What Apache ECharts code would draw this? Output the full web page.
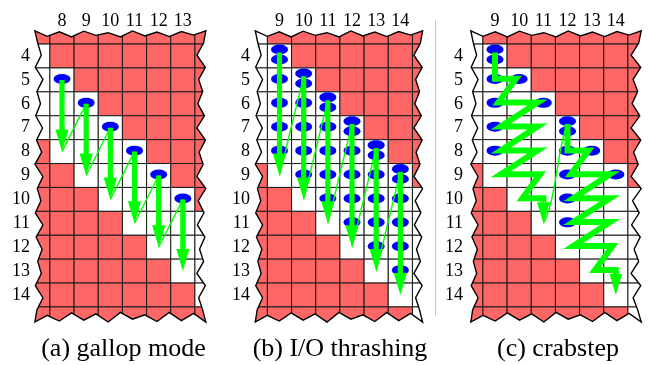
<!DOCTYPE html>
<html><head><meta charset="utf-8">
<script src="https://cdn.jsdelivr.net/npm/echarts@6.0.0/dist/echarts.min.js"></script>
<style>html,body{margin:0;padding:0;background:#fff}#chart{width:653px;height:365px}</style>
</head><body><div id="chart"></div>
<script>
// ================= data =================
const colLabelsA = [8, 9, 10, 11, 12, 13];
const colLabelsB = [9, 10, 11, 12, 13, 14];
const colLabelsC = [9, 10, 11, 12, 13, 14];
const rowLabels = [4, 5, 6, 7, 8, 9, 10, 11, 12, 13, 14];

// cells drawn (including the torn partial rows / columns at the edges)
const cellColsA = [7, 8, 9, 10, 11, 12, 13, 14];
const cellColsB = [8, 9, 10, 11, 12, 13, 14, 15];
const cellColsC = [8, 9, 10, 11, 12, 13, 14, 15];
const cellRows = [3, 4, 5, 6, 7, 8, 9, 10, 11, 12, 13, 14, 15];

// white cells per row: [row, firstCol, lastCol]; every other cell is red
const whiteA = [[4,7,7],[5,7,8],[6,7,9],[7,7,10],[8,8,11],[9,9,12],[10,10,13],[11,11,14],[12,12,14],[13,13,14],[14,14,14]];
const whiteB = [[3,8,8],[4,8,9],[5,8,10],[6,8,11],[7,8,12],[8,8,13],[9,9,14],[10,10,15],[11,11,15],[12,12,15],[13,13,15],[14,14,15],[15,15,15]];
const whiteC = [[3,8,8],[4,8,9],[5,8,10],[6,8,11],[7,8,12],[8,8,13],[9,9,14],[10,10,15],[11,11,15],[12,12,15],[13,13,15],[14,14,15],[15,15,15]];

// blue probes [col, row]
const probesA = [[8,5],[9,6],[10,7],[11,8],[12,9],[13,10]];
const probesB = [[9,5],[9,6],[9,7],[9,8],[10,6],[10,7],[10,8],[10,9],[11,7],[11,8],[11,9],[11,10],
                 [12,8],[12,9],[12,10],[12,11],[13,9],[13,10],[13,11],[13,12],[14,10],[14,11],[14,12],[14,13]];
const doubleProbesB = [[9,4],[10,5],[11,6],[12,7],[13,8],[14,9]];
const probesC = [[9,5],[9,6],[9,7],[9,8],[10,5],[11,6],[12,8],[12,9],[12,10],[12,11],[13,8],[14,9]];
const doubleProbesC = [[9,4],[12,7]];

// green arrows [col, fromRow, toRow]
const gallopsA = [[8,5,8],[9,6,9],[10,7,10],[11,8,11],[12,9,12],[13,10,13]];
const scansB = [[9,4,9],[10,5,10],[11,6,11],[12,7,12],[13,8,13],[14,9,14]];
// crabstep zig-zag paths [col, row]
const crabPath1 = [[9,4],[9,5],[10,5],[9,6],[11,6],[9,7],[11,7],[9,8],[11,8],[9,9],[11,9],[10,10],[11,10],[11,11]];
const crabPath2 = [[12,7],[12,8],[13,8],[12,9],[14,9],[12,10],[14,10],[12,11],[14,11],[12,12],[14,12],[13,13],[14,13],[14,14]];
const crabJump = [[11,11],[12,7]];

const captions = ['(a) gallop mode', '(b) I/O thrashing', '(c) crabstep'];

// ================= layout & style =================
const RED = '#ff6666', GREEN = '#00ff00', BLUE = '#0000ff';
const FONT = 'Liberation Serif';
const COL_W = 24.17, ROW_H = 23.9, ROW4_Y = 56;
const TEETH = [0.9, 0.15, 1.0, 0.05, 0.75, 0.3, 1.0, 0.0, 0.85, 0.2, 0.95, 0.1, 0.7, 0.25, 1.0, 0.05, 0.8, 0.35];
const panels = [
  {c0: 8, c0x: 62,    L: 6.88, R: 13.95, aL: 0.33, aR: 0.37, labRight: 30,  capX: 123.5},
  {c0: 9, c0x: 279.5, L: 8.0,  R: 14.92, aL: 0.30, aR: 0.36, labRight: 250, capX: 340},
  {c0: 9, c0x: 495,   L: 8.0,  R: 15.05, aL: 0.30, aR: 0.42, labRight: 463, capX: 558}
];
panels.forEach(p => { p.T = 2.95; p.B = 15.13; p.aT = 0.25; p.aB = 0.4; });
const colLabels = [colLabelsA, colLabelsB, colLabelsC];
const cellCols = [cellColsA, cellColsB, cellColsC];
const whites = [whiteA, whiteB, whiteC];

const grids = [], xAxes = [], yAxes = [];
panels.forEach((p, i) => {
  p.xmin = p.L - 0.08; p.xmax = p.R + 0.08; p.ymin = p.T - 0.08; p.ymax = p.B + 0.08;
  const left = p.c0x + (p.xmin - p.c0) * COL_W;
  const top = ROW4_Y + (p.ymin - 4) * ROW_H;
  grids.push({left: left, top: top, width: (p.xmax - p.xmin) * COL_W, height: (p.ymax - p.ymin) * ROW_H,
              containLabel: false, outerBoundsMode: 'none'});
  const lab = {fontFamily: FONT, fontSize: 18, color: '#000', fontStyle: 'normal', fontWeight: 'normal'};
  xAxes.push({gridIndex: i, type: 'value', position: 'top', min: p.xmin, max: p.xmax,
    axisLine: {show: false}, axisTick: {show: false}, splitLine: {show: false},
    axisLabel: Object.assign({customValues: colLabels[i], margin: -1}, lab)});
  yAxes.push({gridIndex: i, type: 'value', inverse: true, min: p.ymin, max: p.ymax,
    axisLine: {show: false}, axisTick: {show: false}, splitLine: {show: false},
    axisLabel: Object.assign({customValues: rowLabels, margin: left - p.labRight}, lab)});
});

function jagSides(p) {
  let k = 0;
  const tooth = () => TEETH[(k++) % TEETH.length];
  const side = (a0, a1, f) => {
    const n = Math.max(1, Math.round(Math.abs(a1 - a0) / 0.5));
    const pts = [];
    for (let i = 0; i <= n; i++) {
      const t = a0 + (a1 - a0) * i / n;
      pts.push(f(t, (i === 0 || i === n) ? 0 : tooth()));
    }
    return pts;
  };
  return [
    side(p.L, p.R, (t, d) => [t, p.T + p.aT * d]),
    side(p.T, p.B, (t, d) => [p.R - p.aR * d, t]),
    side(p.R, p.L, (t, d) => [t, p.B - p.aB * d]),
    side(p.B, p.T, (t, d) => [p.L + p.aL * d, t])
  ];
}

const series = [];
panels.forEach((p, i) => {
  // cells
  const data = [];
  cellRows.forEach(r => cellCols[i].forEach(c => {
    const w = whites[i].some(x => x[0] === r && c >= x[1] && c <= x[2]);
    data.push([c, r, w ? 1 : 0]);
  }));
  series.push({type: 'custom', xAxisIndex: i, yAxisIndex: i, z: 1, silent: true, data: data,
    renderItem: function (params, api) {
      const c = api.value(0), r = api.value(1), w = api.value(2);
      const a = api.coord([c - 0.5, r - 0.5]), b = api.coord([c + 0.5, r + 0.5]);
      const cs = params.coordSys;
      const rect = echarts.graphic.clipRectByRect(
        {x: Math.min(a[0], b[0]), y: Math.min(a[1], b[1]), width: Math.abs(b[0] - a[0]), height: Math.abs(b[1] - a[1])},
        {x: cs.x + 1, y: cs.y + 1, width: cs.width - 2, height: cs.height - 2});
      if (!rect) return null;
      return {type: 'rect', shape: rect, style: {fill: w ? '#fff' : RED, stroke: '#1a1a1a', lineWidth: 1}};
    }});
  // torn-paper frame
  series.push({type: 'custom', xAxisIndex: i, yAxisIndex: i, z: 2, silent: true, data: [[p.L, p.T]],
    renderItem: function (params, api) {
      const cs = params.coordSys;
      const sides = jagSides(p).map(s => s.map(pt => api.coord(pt)));
      const TL = [cs.x, cs.y], TR = [cs.x + cs.width, cs.y], BR = [cs.x + cs.width, cs.y + cs.height], BL = [cs.x, cs.y + cs.height];
      const corners = [[TL, TR], [TR, BR], [BR, BL], [BL, TL]];
      const children = sides.map((s, j) => ({type: 'polygon',
        shape: {points: [corners[j][0]].concat(s, [corners[j][1]])}, style: {fill: '#fff', stroke: '#fff', lineWidth: 0.5}}));
      let outline = [];
      sides.forEach(s => { outline = outline.concat(s.slice(0, -1)); });
      children.push({type: 'polygon', shape: {points: outline}, style: {fill: 'none', stroke: '#000', lineWidth: 1.4, lineJoin: 'miter'}});
      return {type: 'group', children: children};
    }});
});

// probes
function probeSeries(i, singles, doubles) {
  const data = singles.map(d => [d[0], d[1] - 0.04]);
  doubles.forEach(d => { data.push([d[0], d[1] - 0.27]); data.push([d[0], d[1] + 0.15]); });
  return {type: 'scatter', xAxisIndex: i, yAxisIndex: i, z: 4, silent: true, symbol: 'circle',
    symbolSize: [17, 10], itemStyle: {color: BLUE, opacity: 1}, data: data};
}
series.push(probeSeries(0, probesA, []));
series.push(probeSeries(1, probesB, doubleProbesB));
series.push(probeSeries(2, probesC, doubleProbesC));

// thick arrows + thin connectors
function arrowSeries(i, arrows, startOff) {
  return {type: 'custom', xAxisIndex: i, yAxisIndex: i, z: 6, silent: true, data: arrows,
    renderItem: function (params, api) {
      const c = api.value(0), r0 = api.value(1), r1 = api.value(2);
      const p0 = api.coord([c, r0 + startOff]), p1 = api.coord([c, r1]);
      const x = p0[0], sw = 2.6, hw = 6.6, yb = p1[1] - 22;
      return {type: 'polygon', shape: {points: [[x - sw, p0[1]], [x + sw, p0[1]], [x + sw, yb], [x + hw, yb], [x, p1[1]], [x - hw, yb], [x - sw, yb]]},
        style: {fill: GREEN}};
    }};
}
function connectorSeries(i, arrows, startOff) {
  const data = arrows.slice(0, -1).map((a, k) => [a[0], a[2], arrows[k + 1][0], arrows[k + 1][1]]);
  return {type: 'custom', xAxisIndex: i, yAxisIndex: i, z: 5, silent: true, data: data,
    renderItem: function (params, api) {
      const a = api.coord([api.value(0), api.value(1)]);
      const b = api.coord([api.value(2), api.value(3) + startOff]);
      return {type: 'line', shape: {x1: a[0], y1: a[1], x2: b[0], y2: b[1]}, style: {stroke: GREEN, lineWidth: 1.4}};
    }};
}
series.push(connectorSeries(0, gallopsA, 0));
series.push(arrowSeries(0, gallopsA, 0));
series.push(connectorSeries(1, scansB, -0.15));
series.push(arrowSeries(1, scansB, -0.15));

// pull sharp corners in a little so the miter tips stay near the probe centres
function insetMiter(pts, w, f) {
  return pts.map((v, k) => {
    if (k === 0 || k === pts.length - 1) return v;
    const p = pts[k - 1], q = pts[k + 1];
    let d1 = [v[0] - p[0], v[1] - p[1]], d2 = [q[0] - v[0], q[1] - v[1]];
    const n1 = Math.hypot(d1[0], d1[1]), n2 = Math.hypot(d2[0], d2[1]);
    d1 = [d1[0] / n1, d1[1] / n1]; d2 = [d2[0] / n2, d2[1] / n2];
    const theta = Math.acos(Math.max(-1, Math.min(1, -(d1[0] * d2[0] + d1[1] * d2[1]))));
    if (theta > 80 * Math.PI / 180) return v;
    const m = (w / 2) / Math.sin(theta / 2);
    let b = [d1[0] - d2[0], d1[1] - d2[1]]; const nb = Math.hypot(b[0], b[1]);
    return [v[0] - (b[0] / nb) * m * f, v[1]];
  });
}

// crabstep zig-zags
function crabSeries(path) {
  return {type: 'custom', xAxisIndex: 2, yAxisIndex: 2, z: 6, silent: true, data: [path[0]],
    renderItem: function (params, api) {
      const n = path.length;
      const raw = path.map((pt, k) => api.coord([pt[0], pt[1] + (k === 0 ? -0.15 : (k === n - 1 ? 0 : -0.05))]));
      const pts = insetMiter(raw, 6, 0.45);
      const tip = pts[n - 1], headLen = 21, hw = 6.3;
      const base = [tip[0], tip[1] - headLen];
      const line = pts.slice(0, n - 1).concat([base]);
      return {type: 'group', children: [
        {type: 'polyline', shape: {points: line}, style: {stroke: GREEN, lineWidth: 6, fill: 'none', lineJoin: 'miter', miterLimit: 10, lineCap: 'butt'}},
        {type: 'polygon', shape: {points: [[base[0] - hw, base[1]], [base[0] + hw, base[1]], tip]}, style: {fill: GREEN}}
      ]};
    }};
}
series.push(crabSeries(crabPath1));
series.push(crabSeries(crabPath2));
series.push({type: 'custom', xAxisIndex: 2, yAxisIndex: 2, z: 5, silent: true, data: [crabJump[0]],
  renderItem: function (params, api) {
    const s = crabJump[0], e = crabJump[1];
    const a = api.coord([s[0], s[1]]), b = api.coord([e[0], e[1] - 0.15]);
    const c1 = api.coord([s[0] + 0.55, s[1] - 1.0]), c2 = api.coord([e[0] - 0.4, e[1] + 0.65]);
    return {type: 'bezierCurve', shape: {x1: a[0], y1: a[1], x2: b[0], y2: b[1], cpx1: c1[0], cpy1: c1[1], cpx2: c2[0], cpy2: c2[1]},
      style: {stroke: GREEN, lineWidth: 1.4, fill: 'none'}};
  }});

const graphics = panels.map((p, i) => ({type: 'text', x: p.capX, y: 349, silent: true,
  style: {text: captions[i], font: '26px "Liberation Serif"', fill: '#000', align: 'center', verticalAlign: 'middle',
          textAlign: 'center', textVerticalAlign: 'middle'}}));
graphics.push({type: 'line', silent: true, shape: {x1: 435.5, y1: 20, x2: 435.5, y2: 316}, style: {stroke: '#c8c8c8', lineWidth: 1}});

const chart = echarts.init(document.getElementById('chart'), null, {renderer: 'canvas'});
chart.setOption({
  animation: false,
  textStyle: {fontFamily: FONT},
  grid: grids, xAxis: xAxes, yAxis: yAxes,
  series: series,
  graphic: graphics
});
</script>
</body></html>
